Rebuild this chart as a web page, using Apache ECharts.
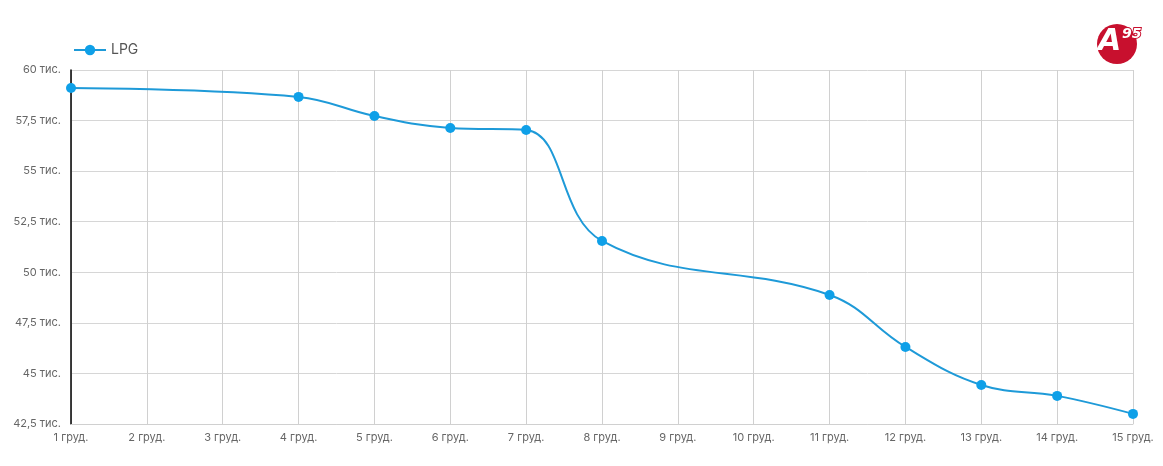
<!DOCTYPE html>
<html><head><meta charset="utf-8">
<script src="https://cdn.jsdelivr.net/npm/echarts@6/dist/echarts.min.js"></script>
<style>html,body{margin:0;padding:0;background:#fff}#c{width:1163px;height:466px}</style>
</head><body><div id="c"></div>
<script>
const categories = ['1 груд.','2 груд.','3 груд.','4 груд.','5 груд.','6 груд.','7 груд.','8 груд.','9 груд.','10 груд.','11 груд.','12 груд.','13 груд.','14 груд.','15 груд.'];
const lpgValues = [59110, null, null, 58670, 57730, 57130, 57030, 51550, null, null, 48880, 46310, 44430, 43890, 43000];
const seriesName = 'LPG';
const yMin = 42500, yMax = 60000, yStep = 2500;

const chart = echarts.init(document.getElementById('c'));
const font = 'Inter, "Open Sans", sans-serif';
chart.setOption({
  animation: false,
  legend: {
    left: 68, top: 38, itemWidth: 32, itemHeight: 13, itemGap: 10,
    textStyle: { color: '#555', fontSize: 14, fontFamily: font },
    data: [seriesName]
  },
  grid: { left: 71, right: 30, top: 70, bottom: 42 },
  xAxis: {
    type: 'category', data: categories, boundaryGap: false,
    axisLine: { show: true, lineStyle: { color: '#d0d0d0' } },
    axisTick: { show: false },
    splitLine: { show: true, lineStyle: { color: '#d0d0d0' } },
    axisLabel: { color: '#666', fontSize: 11, fontFamily: font, margin: 8, interval: 0 }
  },
  yAxis: {
    type: 'value', min: yMin, max: yMax, interval: yStep,
    axisLine: { show: true, lineStyle: { color: '#000', width: 1.5 } },
    axisTick: { show: false },
    splitLine: { lineStyle: { color: '#d6d6d6' } },
    axisLabel: {
      color: '#666', fontSize: 11, fontFamily: font, margin: 10,
      formatter: v => (v / 1000).toString().replace('.', ',') + ' тис.'
    }
  },
  series: [{
    name: seriesName, type: 'line', data: lpgValues, connectNulls: true, smooth: 0.4,
    symbol: 'circle', symbolSize: 10,
    itemStyle: { color: '#0fa0e8' },
    lineStyle: { color: '#1e9ad8', width: 2 }
  }],
  graphic: [
    { type: 'circle', shape: { cx: 1117, cy: 44, r: 20 }, style: { fill: '#c8102e' } },
    { type: 'text', left: 1098, top: 27, style: { text: 'A', fill: '#fff', font: 'italic bold 30px "DejaVu Sans", sans-serif' } },
    { type: 'text', left: 1121, top: 26, style: { text: '95', fill: '#fff', stroke: '#c8102e', lineWidth: 2, font: 'italic bold 14px "DejaVu Sans", sans-serif' } }
  ]
});
</script></body></html>
